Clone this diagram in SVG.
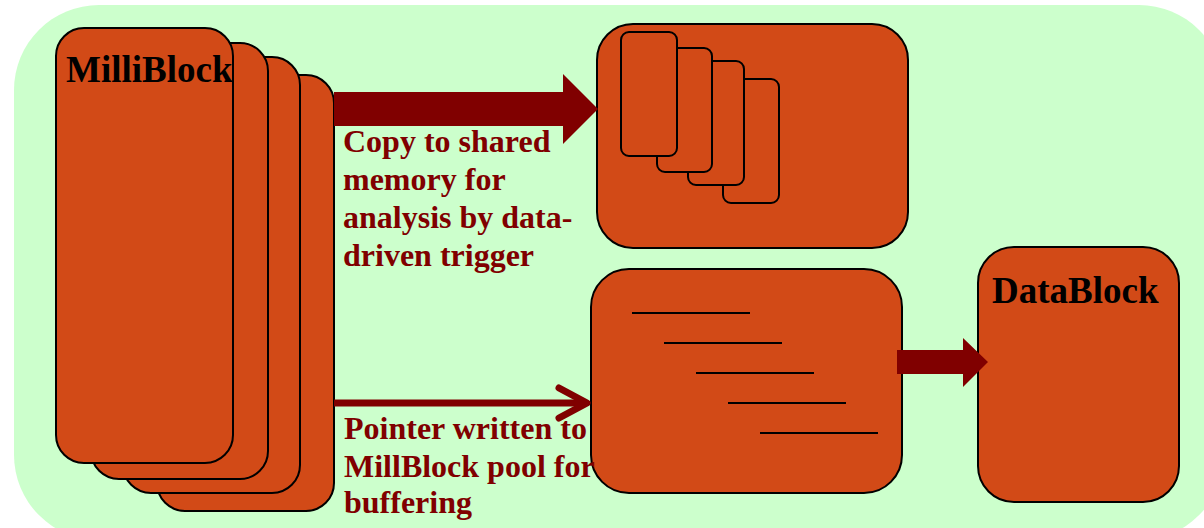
<svg xmlns="http://www.w3.org/2000/svg" width="1204" height="528" viewBox="0 0 1204 528">
  <style>
    .node { fill: #d24a17; stroke: #000; stroke-width: 2; }
    .card { fill: #d24a17; stroke: #000; stroke-width: 2; }
    .rule { stroke: #000; stroke-width: 2; }
    .title { font-family: "Liberation Serif", serif; font-weight: bold; font-size: 37px; fill: #000; }
    .label { font-family: "Liberation Serif", serif; font-weight: bold; font-size: 32px; fill: #800000; }
    .flow { fill: #800000; }
  </style>

  <!-- backdrop panel -->
  <rect x="14" y="5" width="1210" height="535" rx="85" fill="#ccffcc"/>

  <!-- MilliBlock stack -->
  <g id="milliblock">
    <rect class="node" x="157" y="75" width="177" height="436" rx="28"/>
    <rect class="node" x="123" y="57" width="177" height="436" rx="28"/>
    <rect class="node" x="91" y="43" width="177" height="436" rx="28"/>
    <rect class="node" x="56" y="28" width="177" height="435" rx="28"/>
    <text class="title" x="66" y="82">MilliBlock</text>
  </g>

  <!-- shared memory -->
  <g id="shared-memory">
    <rect class="node" x="597" y="24" width="311" height="224" rx="36"/>
    <rect class="card" x="723" y="79" width="56" height="124" rx="8"/>
    <rect class="card" x="688" y="61" width="56" height="124" rx="8"/>
    <rect class="card" x="657" y="48" width="55" height="124" rx="8"/>
    <rect class="card" x="621" y="32" width="56" height="124" rx="8"/>
  </g>

  <!-- MilliBlock pool -->
  <g id="pool">
    <rect class="node" x="591" y="269" width="311" height="224" rx="38"/>
    <line class="rule" x1="632" y1="313" x2="750" y2="313"/>
    <line class="rule" x1="664" y1="343" x2="782" y2="343"/>
    <line class="rule" x1="696" y1="373" x2="814" y2="373"/>
    <line class="rule" x1="728" y1="403" x2="846" y2="403"/>
    <line class="rule" x1="760" y1="433" x2="878" y2="433"/>
  </g>

  <!-- DataBlock -->
  <g id="datablock">
    <rect class="node" x="978" y="247" width="201" height="255" rx="36"/>
    <text class="title" x="992" y="303">DataBlock</text>
  </g>

  <!-- connectors -->
  <g id="connectors">
    <polygon class="flow" points="334,92 563,92 563,74 598,109 563,144 563,126 334,126"/>
    <line x1="334" y1="403" x2="585" y2="403" stroke="#800000" stroke-width="7"/>
    <polyline points="559,388 587,403 559,418" fill="none" stroke="#800000" stroke-width="7" stroke-linecap="round" stroke-linejoin="round"/>
    <polygon class="flow" points="897,350 963,350 963,338 988,362 963,387 963,374 897,374"/>
  </g>

  <!-- connector labels -->
  <g id="labels">
    <text class="label" x="343" y="152">Copy to shared</text>
    <text class="label" x="343" y="190">memory for</text>
    <text class="label" x="343" y="228">analysis by data-</text>
    <text class="label" x="343" y="266">driven trigger</text>
    <text class="label" x="344" y="439">Pointer written to</text>
    <text class="label" x="344" y="477">MillBlock pool for</text>
    <text class="label" x="344" y="513">buffering</text>
  </g>
</svg>
